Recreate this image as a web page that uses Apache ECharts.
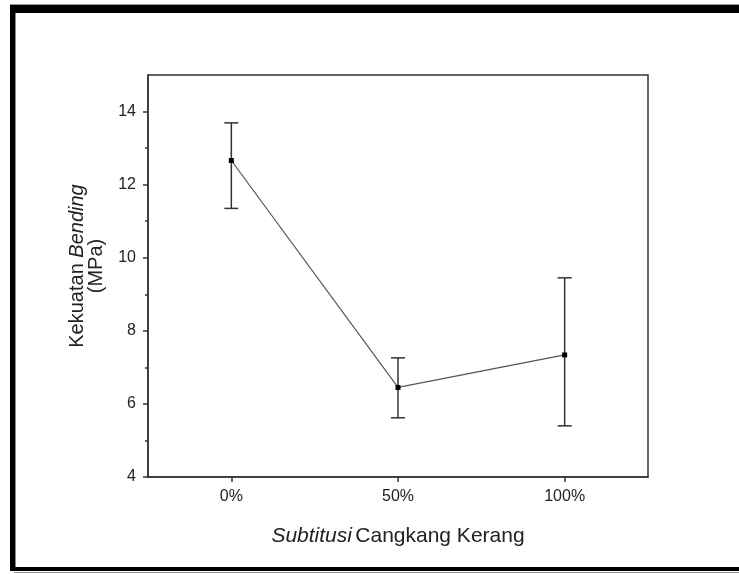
<!DOCTYPE html>
<html>
<head>
<meta charset="utf-8">
<script src="https://cdn.jsdelivr.net/npm/echarts@6/dist/echarts.min.js"></script>
<style>
html,body{margin:0;padding:0;background:#fff;}
#chart{width:739px;height:574px;}
</style>
</head>
<body>
<div id="chart"></div>
<script>
const categories = ['0%', '50%', '100%'];
const meanValues = [12.66, 6.45, 7.34];
const errorUpper = [13.69, 7.26, 9.45];
const errorLower = [11.35, 5.62, 5.40];
const yMajorTicks = [4, 6, 8, 10, 12, 14];
const yMinorTicks = [5, 7, 9, 11, 13];
const yMin = 4;
const yMax = 15;

const FONT = '"Liberation Sans", Arial, sans-serif';
const chart = echarts.init(document.getElementById('chart'));

const errorData = categories.map((c, i) => [i, errorLower[i], errorUpper[i]]);

chart.setOption({
  animation: false,
  backgroundColor: '#fff',
  grid: {
    left: 148, top: 75, right: 91, bottom: 97,
    show: true, borderColor: '#333', borderWidth: 1.5, backgroundColor: 'transparent'
  },
  xAxis: {
    type: 'category',
    data: categories,
    boundaryGap: true,
    axisLine: { show: true, lineStyle: { color: '#333', width: 1.5 } },
    axisTick: { show: true, alignWithLabel: true, length: 5, lineStyle: { color: '#333', width: 1.5 } },
    axisLabel: { color: '#222', fontSize: 16, fontFamily: FONT, margin: 12 },
    splitLine: { show: false },
    name: '{i|Subtitusi} {n|Cangkang Kerang}',
    nameLocation: 'middle',
    nameGap: 49,
    nameTextStyle: {
      rich: {
        i: { fontSize: 21, fontStyle: 'italic', fontFamily: FONT, color: '#222' },
        n: { fontSize: 21, fontFamily: FONT, color: '#222' }
      }
    }
  },
  yAxis: [{
    type: 'value',
    min: yMin, max: yMax,
    axisLine: { show: true, lineStyle: { color: '#333', width: 1.5 } },
    axisTick: { show: true, length: 5, customValues: yMajorTicks, lineStyle: { color: '#333', width: 1.5 } },
    axisLabel: { customValues: yMajorTicks, color: '#222', fontSize: 16, fontFamily: FONT, margin: 12 },
    splitLine: { show: false },
    name: '{n|Kekuatan }{i|Bending}\n{n|(MPa)}',
    nameLocation: 'middle',
    nameGap: 42,
    nameRotate: 90,
    nameTextStyle: {
      align: 'center',
      lineHeight: 19,
      padding: [0, 0, 0, 20],
      rich: {
        i: { fontSize: 20, fontStyle: 'italic', fontFamily: FONT, color: '#222', lineHeight: 19 },
        n: { fontSize: 20, fontFamily: FONT, color: '#222', lineHeight: 19 }
      }
    }
  }, {
    type: 'value',
    position: 'left',
    min: yMin, max: yMax,
    axisLine: { show: false },
    axisTick: { show: true, length: 3, customValues: yMinorTicks, lineStyle: { color: '#333', width: 1.5 } },
    axisLabel: { show: false },
    splitLine: { show: false }
  }],
  series: [{
    type: 'line',
    data: meanValues,
    yAxisIndex: 0,
    symbol: 'rect',
    symbolSize: 5,
    itemStyle: { color: '#000' },
    lineStyle: { color: '#555', width: 1.2 },
    z: 3
  }, {
    type: 'custom',
    yAxisIndex: 0,
    data: errorData,
    renderItem: function (params, api) {
      const x = api.value(0);
      const lo = api.coord([x, api.value(1)]);
      const hi = api.coord([x, api.value(2)]);
      const hw = 7;
      const st = { stroke: '#333', lineWidth: 1.5 };
      return {
        type: 'group',
        children: [
          { type: 'line', shape: { x1: hi[0], y1: hi[1], x2: lo[0], y2: lo[1] }, style: st },
          { type: 'line', shape: { x1: hi[0] - hw, y1: hi[1], x2: hi[0] + hw, y2: hi[1] }, style: st },
          { type: 'line', shape: { x1: lo[0] - hw, y1: lo[1], x2: lo[0] + hw, y2: lo[1] }, style: st }
        ]
      };
    },
    z: 2
  }],
  graphic: [
    { type: 'rect', shape: { x: 10, y: 4, width: 729, height: 1 }, style: { fill: '#999' } },
    { type: 'rect', shape: { x: 10, y: 5, width: 729, height: 8 }, style: { fill: '#000' } },
    { type: 'rect', shape: { x: 10, y: 5, width: 5, height: 566 }, style: { fill: '#000' } },
    { type: 'rect', shape: { x: 15, y: 13, width: 1, height: 554 }, style: { fill: '#888' } },
    { type: 'rect', shape: { x: 10, y: 567, width: 729, height: 4 }, style: { fill: '#000' } },
    { type: 'rect', shape: { x: 14, y: 572, width: 725, height: 1 }, style: { fill: '#999' } }
  ]
});
</script>
</body>
</html>
